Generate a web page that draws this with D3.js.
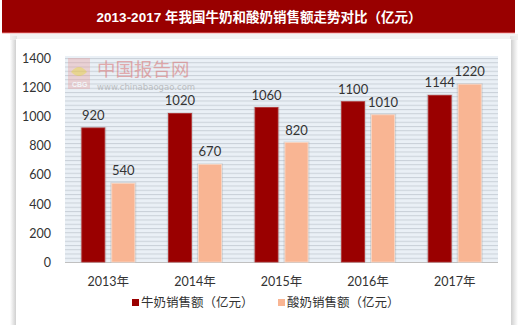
<!DOCTYPE html>
<html><head><meta charset="utf-8">
<script src="https://cdn.jsdelivr.net/npm/d3@7"></script>
<style>
html,body{margin:0;padding:0;background:#fff;}
svg{display:block;}
</style></head>
<body>
<script>
const title = "2013-2017 年我国牛奶和酸奶销售额走势对比（亿元）";
const categories = ["2013年","2014年","2015年","2016年","2017年"];
const seriesNames = ["牛奶销售额（亿元）","酸奶销售额（亿元）"];
const milk = [920,1020,1060,1100,1144];
const yogurt = [540,670,820,1010,1220];
const yTicks = [0,200,400,600,800,1000,1200,1400];
const colors = ["#9a0000","#f9b593"];

const W=520,H=325;
const svg=d3.select("body").append("svg").attr("width",W).attr("height",H);
const defs=svg.append("defs");
const pat=defs.append("pattern").attr("id","stripe").attr("patternUnits","userSpaceOnUse")
  .attr("width",8).attr("height",4.25).attr("y",262);
pat.append("rect").attr("width",8).attr("height",4.25).attr("fill","#eaf0f6");
pat.append("rect").attr("y",0).attr("width",8).attr("height",1).attr("fill","#c9d0d8");
const sh=defs.append("linearGradient").attr("id","shL").attr("x1",0).attr("x2",1);
sh.append("stop").attr("offset",0).attr("stop-color","#fff");
sh.append("stop").attr("offset",1).attr("stop-color","#c8c8c8");
const shR=defs.append("linearGradient").attr("id","shR").attr("x1",0).attr("x2",1);
shR.append("stop").attr("offset",0).attr("stop-color","#c8c8c8");
shR.append("stop").attr("offset",1).attr("stop-color","#fff");

// title bar
svg.append("rect").attr("x",2).attr("y",0).attr("width",513).attr("height",33).attr("fill","#990000");
svg.append("rect").attr("x",2).attr("y",32).attr("width",513).attr("height",1.5).attr("fill","#e06060").attr("opacity",0.6);
svg.append("text").attr("x",259).attr("y",21.5).attr("text-anchor","middle")
  .attr("fill","#fff").attr("font-weight","bold").attr("font-size",13.5)
  .attr("font-family","'Liberation Sans','Noto Sans CJK SC',sans-serif").text(title);

// panel with shadow
svg.append("rect").attr("x",10).attr("y",36).attr("width",7).attr("height",H-36).attr("fill","url(#shL)");
svg.append("rect").attr("x",510).attr("y",36).attr("width",8).attr("height",H-36).attr("fill","url(#shR)");
svg.append("rect").attr("x",10).attr("y",34).attr("width",508).attr("height",6).attr("fill","#ececec").attr("opacity",0.7);
svg.append("rect").attr("x",16).attr("y",39).attr("width",495).attr("height",H-39).attr("fill","#fff");

const x0=65,x1=498,yTop=58,yBot=262;
const y=d3.scaleLinear().domain([0,1400]).range([yBot,yTop]);
const xb=d3.scaleBand().domain(categories).range([x0,x1]);
const xs=d3.scaleBand().domain([0,1]).range([0,xb.bandwidth()]).paddingInner(0.233).paddingOuter(0.56);

// plot background
svg.append("rect").attr("x",x0).attr("y",yTop-2).attr("width",x1-x0).attr("height",yBot-yTop+2).attr("fill","url(#stripe)");

// watermark
const wm=svg.append("g").attr("opacity",0.55);
wm.append("rect").attr("x",68).attr("y",58).attr("width",22).attr("height",31).attr("fill","#e8a0a0").attr("opacity",0.7);
wm.append("path").attr("d","M71,72 q8,-10 16,0 q-8,8 -16,0z").attr("fill","#e8c040");
wm.append("text").attr("x",72).attr("y",87).attr("font-size",7).attr("fill","#fff").attr("font-family","Liberation Sans").attr("font-weight","bold").text("CBG");
wm.append("text").attr("x",97).attr("y",76).attr("font-size",18.5).attr("fill","#d87070")
  .attr("font-family","'Noto Sans CJK SC'").text("中国报告网");
wm.append("text").attr("x",97).attr("y",90).attr("font-size",8.5).attr("fill","#999")
  .attr("font-family","'DejaVu Sans',sans-serif").text("www.chinabaogao.com");

// axis
const yAxis=d3.axisLeft(y).tickValues(yTicks).tickFormat(d3.format("d")).tickSize(0).tickPadding(0);
const ga=svg.append("g").attr("transform",`translate(51,0)`).call(yAxis);
ga.select(".domain").remove();
ga.selectAll("text").attr("font-size",12.5).attr("fill","#333")
  .attr("font-family","Lato,'Noto Sans CJK SC',sans-serif").attr("dy","0.35em");

// baseline
svg.append("line").attr("x1",x0).attr("x2",x1).attr("y1",yBot+0.5).attr("y2",yBot+0.5).attr("stroke","#c0c0c0");

const data=categories.map((c,i)=>({c,v:[milk[i],yogurt[i]]}));
const g=svg.append("g");
data.forEach(d=>{
  d.v.forEach((v,k)=>{
    const bx=xb(d.c)+xs(k), bw=xs.bandwidth();
    // shadow
    g.append("rect").attr("x",bx-1.5).attr("y",y(v)-1).attr("width",bw+3).attr("height",yBot-y(v)+1)
      .attr("fill","#999").attr("opacity",0.3);
    g.append("rect").attr("x",bx).attr("y",y(v)).attr("width",bw).attr("height",yBot-y(v))
      .attr("fill",colors[k]).attr("stroke",k?"#fcd8c4":"#b03030").attr("stroke-width",0.8);
    g.append("text").attr("x",bx+bw/2).attr("y",y(v)-8).attr("text-anchor","middle")
      .attr("font-size",13).attr("fill","#333").attr("font-family","Lato,sans-serif").text(v);
  });
});

// x labels
const xAxis=d3.axisBottom(xb).tickSize(0).tickPadding(0);
const gx=svg.append("g").attr("transform",`translate(0,${yBot+20})`).call(xAxis);
gx.select(".domain").remove();
gx.selectAll("text").attr("font-size",12.5).attr("fill","#333").attr("dy","0.35em")
  .attr("font-family","Lato,'Noto Sans CJK SC',sans-serif");

// legend
const legX=[132,278];
seriesNames.forEach((n,k)=>{
  svg.append("rect").attr("x",legX[k]).attr("y",299).attr("width",7).attr("height",7).attr("fill",colors[k]);
  svg.append("text").attr("x",legX[k]+9).attr("y",303).attr("dy","0.35em").attr("font-size",12.5).attr("fill","#333")
    .attr("font-family","'Noto Sans CJK SC',sans-serif").text(n);
});
</script>
</body></html>
